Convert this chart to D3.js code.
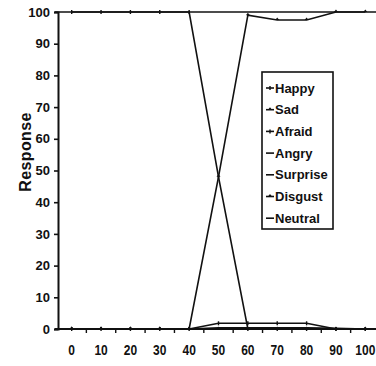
<!DOCTYPE html>
<html>
<head>
<meta charset="utf-8">
<script src="https://cdn.jsdelivr.net/npm/d3@7"></script>
<style>
  body { margin: 0; background: #fff; }
  svg { display: block; }
</style>
</head>
<body>
<div id="chart"></div>
<script>
// chart values
const categories = [0, 10, 20, 30, 40, 50, 60, 70, 80, 90, 100];
const yTicks = [0, 10, 20, 30, 40, 50, 60, 70, 80, 90, 100];
const seriesNames = ["Happy", "Sad", "Afraid", "Angry", "Surprise", "Disgust", "Neutral"];
const happy    = [100, 100, 100, 100, 100, 48, 0, 0, 0, 0, 0];
const sad      = [0, 0, 0, 0, 0, 48, 99, 97.5, 97.5, 100, 100];
const afraid   = [0, 0, 0, 0, 0, 1.8, 1.8, 1.8, 1.8, 0, 0];
const angry    = [0, 0, 0, 0, 0, 0.4, 0.4, 0.4, 0.4, 0.2, 0];
const surprise = [0, 0, 0, 0, 0, 0, 0, 0, 0, 0, 0];
const disgust  = [0, 0, 0, 0, 0, 0, 0, 0, 0, 0, 0];
const neutral  = [0, 0, 0, 0, 0, 0, 0, 0, 0, 0, 0];
const seriesValues = [happy, sad, afraid, angry, surprise, disgust, neutral];
const markerTypes = ["plus", "tri", "plus", "none", "none", "tri", "none"];

const width = 376, height = 366;
const svg = d3.select('#chart').append('svg')
  .attr('width', width).attr('height', height);

const x = d3.scaleBand().domain(categories).range([57, 380]).padding(0);
const y = d3.scaleLinear().domain([0, 100]).range([329, 12]);
const cx = d => x(d) + x.bandwidth() / 2;

// frame top line
svg.append('line')
  .attr('x1', 55).attr('x2', width).attr('y1', y(100)).attr('y2', y(100))
  .attr('stroke', '#111').attr('stroke-width', 1.6);

// y axis
const yAxis = svg.append('g').attr('transform', 'translate(58,0)')
  .call(d3.axisLeft(y).tickValues(yTicks).tickSize(4).tickPadding(4));
yAxis.select('.domain').attr('stroke', '#111').attr('stroke-width', 2);
yAxis.selectAll('.tick line').attr('stroke', '#111').attr('stroke-width', 1.6);
yAxis.selectAll('text')
  .attr('font-family', 'Liberation Sans, Arial, sans-serif')
  .attr('font-weight', 'bold').attr('font-size', 13).attr('fill', '#111');

// x axis: ticks sit between categories
svg.append('line')
  .attr('x1', 55).attr('x2', width).attr('y1', y(0)).attr('y2', y(0))
  .attr('stroke', '#111').attr('stroke-width', 2);
svg.append('g').selectAll('line')
  .data(categories.slice(1))
  .enter().append('line')
  .attr('x1', d => x(d)).attr('x2', d => x(d))
  .attr('y1', y(0)).attr('y2', y(0) + 4)
  .attr('stroke', '#111').attr('stroke-width', 1.4);
svg.append('g').selectAll('text')
  .data(categories)
  .enter().append('text')
  .attr('transform', d => `translate(${cx(d)},355) scale(1,1.25)`)
  .attr('text-anchor', 'middle')
  .attr('font-family', 'Liberation Sans Narrow, Arial Narrow, sans-serif')
  .attr('font-weight', 'bold').attr('font-size', 12).attr('fill', '#111')
  .text(d => d);

// y label
svg.append('text')
  .attr('transform', 'translate(31,152) rotate(-90)')
  .attr('text-anchor', 'middle')
  .attr('font-family', 'Liberation Sans, Arial, sans-serif')
  .attr('font-weight', 'bold').attr('font-size', 16)
  .attr('letter-spacing', 0.4).attr('fill', '#111')
  .text('Response');

// series lines
const line = d3.line()
  .x((d, i) => cx(categories[i]))
  .y(d => y(d));

function drawMarker(g, type, px, py) {
  if (type === 'plus') {
    g.append('line').attr('x1', px).attr('x2', px).attr('y1', py - 2).attr('y2', py + 2)
      .attr('stroke', '#111').attr('stroke-width', 1.4);
  } else if (type === 'tri') {
    g.append('path').attr('d', `M${px - 2},${py}L${px},${py - 2.5}L${px + 2},${py}Z`)
      .attr('fill', '#111');
  }
}

seriesValues.forEach((vals, k) => {
  const g = svg.append('g');
  g.append('path')
    .datum(vals)
    .attr('d', line)
    .attr('fill', 'none')
    .attr('stroke', '#111')
    .attr('stroke-width', 1.6);
  vals.forEach((v, i) => drawMarker(g, markerTypes[k], cx(categories[i]), y(v)));
});

// legend
const legend = svg.append('g');
legend.append('rect')
  .attr('x', 262).attr('y', 72).attr('width', 71).attr('height', 157)
  .attr('fill', '#fff').attr('stroke', '#111').attr('stroke-width', 1.6);
seriesNames.forEach((name, i) => {
  const ly = 88 + i * 21.7;
  legend.append('line')
    .attr('x1', 266).attr('x2', 274).attr('y1', ly).attr('y2', ly)
    .attr('stroke', '#111').attr('stroke-width', 1.6);
  drawMarker(legend, markerTypes[i], 270, ly);
  legend.append('text')
    .attr('x', 275).attr('y', ly + 4.5)
    .attr('font-family', 'Liberation Sans, Arial, sans-serif')
    .attr('font-weight', 'bold').attr('font-size', 13).attr('fill', '#111')
    .text(name);
});
</script>
</body>
</html>
